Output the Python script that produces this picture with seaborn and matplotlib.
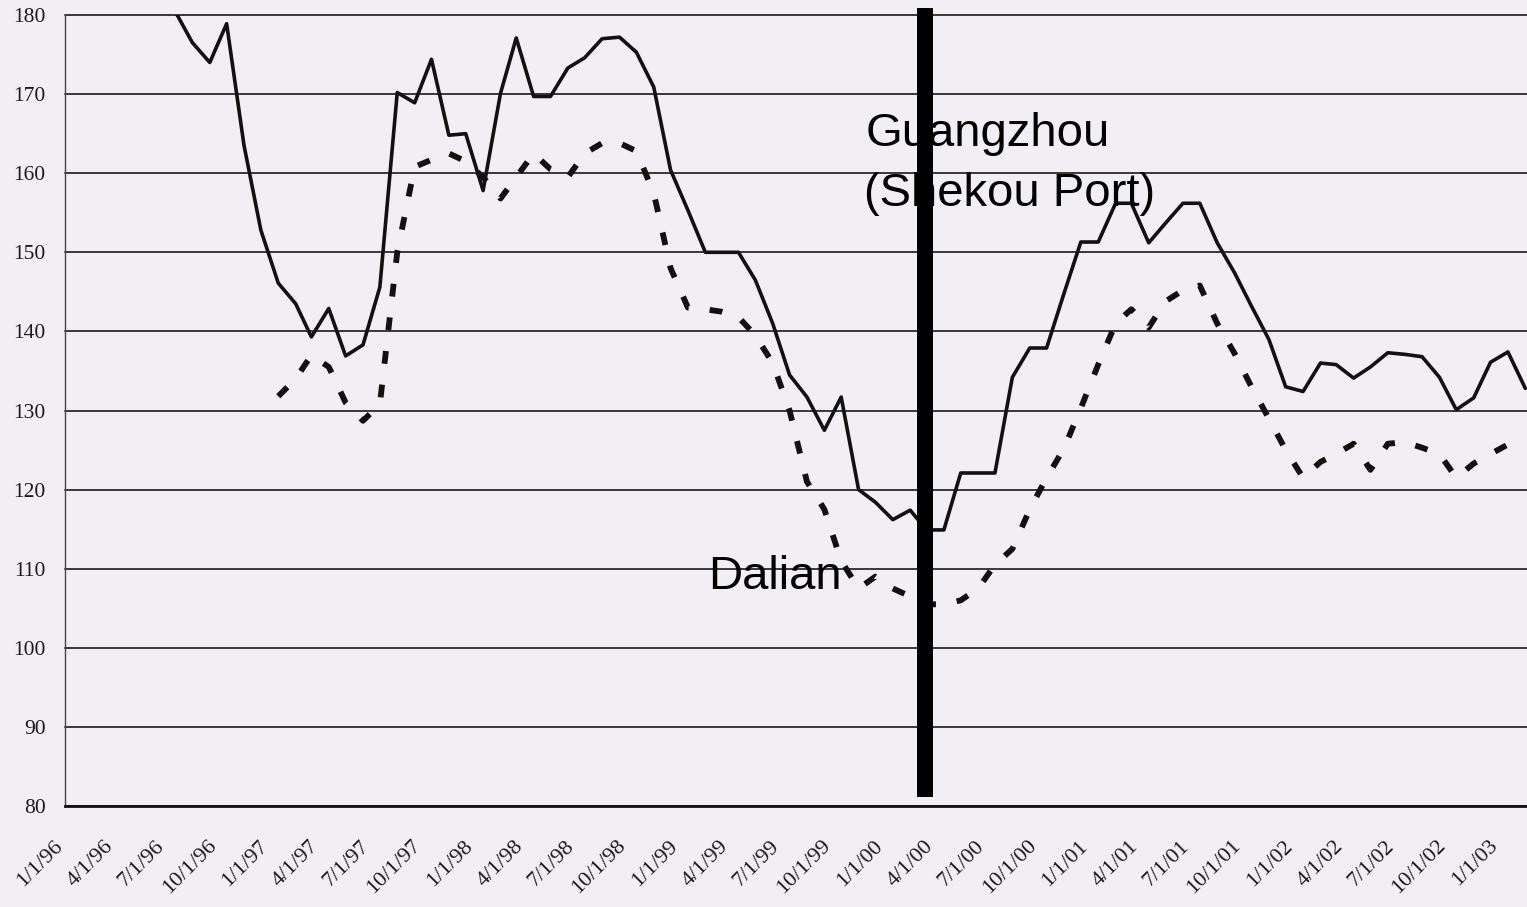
import numpy as np
import pandas as pd
import matplotlib
matplotlib.use("Agg")
import matplotlib.pyplot as plt
import matplotlib.transforms as mtransforms
import seaborn as sns

# Monthly index levels (observations dated mid-month)
guangzhou_start = "1996-07"
guangzhou = [
    180.5, 176.5, 174.0, 178.9, 163.5, 152.8,                      # Jul-Dec 1996
    146.1, 143.5, 139.3, 142.9, 136.9, 138.3,                      # 1997 H1
    145.6, 170.2, 168.9, 174.4, 164.8, 165.0,                      # 1997 H2
    157.8, 170.1, 177.1, 169.7, 169.7, 173.3,                      # 1998 H1
    174.6, 177.0, 177.2, 175.3, 170.9, 160.4,                      # 1998 H2
    155.3, 150.0, 150.0, 150.0, 146.5, 141.0,                      # 1999 H1
    134.5, 131.7, 127.5, 131.7, 120.0, 118.4,                      # 1999 H2
    116.2, 117.4, 114.9, 114.9, 122.1, 122.1,                      # 2000 H1
    122.1, 134.2, 137.9, 137.9, 144.8, 151.3,                      # 2000 H2
    151.3, 156.2, 156.2, 151.2, 153.7, 156.2,                      # 2001 H1
    156.2, 151.2, 147.4, 143.2, 139.0, 133.0,                      # 2001 H2
    132.4, 136.0, 135.8, 134.1, 135.5, 137.3,                      # 2002 H1
    137.1, 136.8, 134.2, 130.1, 131.6, 136.1,                      # 2002 H2
    137.4, 132.8,                                                  # Jan-Feb 2003
]

dalian_start = "1997-01"
dalian = [
    131.8, 134.0, 137.0, 135.5, 131.0, 128.7,                      # 1997 H1
    130.8, 150.0, 160.8, 161.7, 162.5, 161.5,                      # 1997 H2
    159.5, 156.8, 159.5, 162.5, 160.5, 159.5,                      # 1998 H1
    162.5, 163.8, 163.8, 162.8, 157.5, 148.0,                      # 1998 H2
    143.0, 142.8, 142.5, 141.8, 139.5, 136.0,                      # 1999 H1
    130.0, 121.0, 117.5, 111.0, 107.5, 109.0,                      # 1999 H2
    107.5, 106.5, 105.5, 105.5, 106.0, 107.5,                      # 2000 H1
    110.5, 112.5, 117.5, 121.5, 125.2, 130.3,                      # 2000 H2
    135.8, 141.0, 142.8, 140.5, 143.8, 145.2,                      # 2001 H1
    145.8, 141.0, 137.2, 133.0, 129.0, 125.0,                      # 2001 H2
    121.5, 123.5, 124.5, 125.8, 122.5, 125.8,                      # 2002 H1
    126.0, 125.3, 124.5, 121.5, 123.3, 124.5,                      # 2002 H2
    125.7, 125.5,                                                  # Jan-Feb 2003
]

tick_dates = pd.date_range("1996-01-01", "2003-01-01", freq="QS")
tick_labels = [
    "1/1/96", "4/1/96", "7/1/96", "10/1/96",
    "1/1/97", "4/1/97", "7/1/97", "10/1/97",
    "1/1/98", "4/1/98", "7/1/98", "10/1/98",
    "1/1/99", "4/1/99", "7/1/99", "10/1/99",
    "1/1/00", "4/1/00", "7/1/00", "10/1/00",
    "1/1/01", "4/1/01", "7/1/01", "10/1/01",
    "1/1/02", "4/1/02", "7/1/02", "10/1/02",
    "1/1/03",
]
y_ticks = list(range(80, 181, 10))

# date marked by the heavy vertical divider
divider_date = pd.Timestamp("2000-03-12")


def monthly_frame(start, values):
    dates = (pd.period_range(start, periods=len(values), freq="M").to_timestamp()
             + pd.Timedelta(days=14))
    return pd.DataFrame({"date": dates, "value": values})


gz = monthly_frame(guangzhou_start, guangzhou)
dl = monthly_frame(dalian_start, dalian)

sns.set_style("white")
plt.rcParams["font.family"] = ["Liberation Serif", "DejaVu Serif"]

W, H = 1527, 907
bg = "#f1eff3"
ink = "#111111"

fig = plt.figure(figsize=(W / 100, H / 100), dpi=100)
fig.patch.set_facecolor(bg)
ax = fig.add_axes([65 / W, 101 / H, 1462 / W, 791 / H])
ax.set_facecolor(bg)

sns.lineplot(data=gz, x="date", y="value", ax=ax, color=ink, linewidth=2.6, zorder=3)
sns.lineplot(data=dl, x="date", y="value", ax=ax, color=ink, linewidth=4.2, zorder=3)
dash_line = ax.lines[-1]
dash_line.set_linestyle((0, (2.2, 3.6)))
dash_line.set_dash_capstyle("butt")

ax.set_ylim(80, 180)
ax.set_xlim(pd.Timestamp("1996-01-01"), pd.Timestamp("2003-02-18"))
ax.set_yticks(y_ticks)
ax.set_xticks(tick_dates)
ax.set_xticklabels(tick_labels, rotation=45, ha="right", rotation_mode="anchor")
ax.set_xlabel("")
ax.set_ylabel("")

ax.grid(axis="y", color="#2a2a2a", linewidth=1.3)
ax.grid(axis="x", visible=False)
ax.set_axisbelow(True)
for gl in ax.get_ygridlines():
    gl.set_clip_on(False)

for side in ("top", "right"):
    ax.spines[side].set_visible(False)
ax.spines["left"].set_color("#444444")
ax.spines["left"].set_linewidth(1.0)
ax.spines["bottom"].set_color(ink)
ax.spines["bottom"].set_linewidth(2.0)

ax.tick_params(axis="both", direction="out", length=5, width=1.0, color="#333333",
               labelcolor="#1a1a1a")
ax.tick_params(axis="y", pad=9, labelsize=15.5)
ax.tick_params(axis="x", pad=17, labelsize=16)

# nudge the slanted date labels so their ends sit just left of each tick
shift = mtransforms.ScaledTranslation(-12 / 100, 0, fig.dpi_scale_trans)
for lbl in ax.get_xticklabels():
    lbl.set_transform(lbl.get_transform() + shift)

# heavy vertical divider
ax.plot([divider_date, divider_date], [81.1, 180.9], color="black", linewidth=11.5,
        solid_capstyle="butt", clip_on=False, zorder=6)

label_font = dict(fontsize=34, family=["Liberation Sans", "DejaVu Sans"], color="black",
                  va="baseline", ha="left", transform=ax.transAxes, zorder=5)
ax.text(0.5479, 0.8344, "Guangzhou", **label_font)
ax.text(0.5465, 0.7585, "(Shekou Port)", **label_font)
ax.text(0.4398, 0.2743, "Dalian", **label_font)

fig.savefig("out.png", dpi=100, facecolor=bg)
